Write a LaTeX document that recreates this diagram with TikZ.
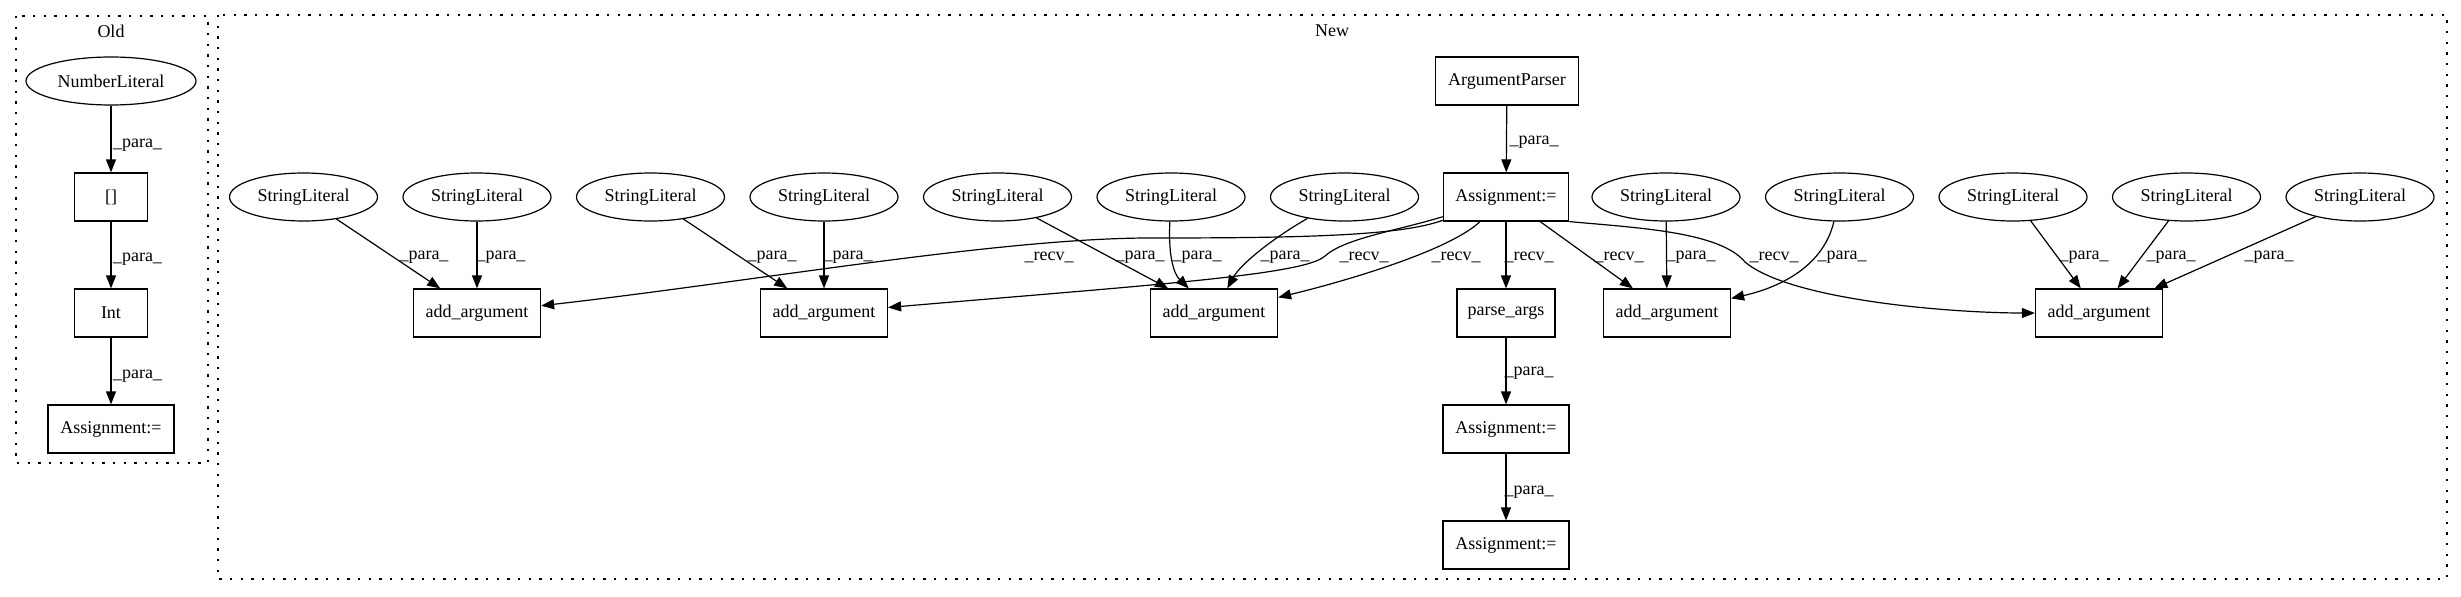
\documentclass[tikz,border=0pt]{standalone}
\usepackage{fontspec}
\setmainfont{Liberation Serif}
\usetikzlibrary{shapes.geometric,arrows.meta}
\begin{document}
\begin{tikzpicture}[x=0.75pt,y=-0.75pt,
  every node/.style={font=\fontsize{13.5pt}{16pt}\selectfont, inner sep=0pt},
  lit/.style={draw, ellipse, line width=0.9pt, minimum width=111pt, minimum height=36pt},
  box/.style={draw, rectangle, line width=0.9pt, minimum height=36pt},
  abox/.style={box, minimum width=95.25pt},
  lbl/.style={},
  edge/.style={draw, line width=0.9pt, -{Triangle[length=9.75pt,width=7.5pt]}},
  cluster/.style={draw, line width=0.9pt, dash pattern=on 1.8pt off 6.2pt},
]
\fill[white] (0,0) rectangle (2461,596);
\useasboundingbox (0,0) rectangle (2461,596);
% clusters
\draw[cluster] (16,16) rectangle (208,463);
\draw[cluster] (218,15) rectangle (2447,579);
\node (oldlbl) at (111,31) {Old};
\node (newlbl) at (1332,31) {New};

% Old
\node[lit, minimum width=127.5pt] (nl) at (111,81) {NumberLiteral};
\node[box, minimum width=54.75pt] (br) at (111,197) {[]};
\node[box, minimum width=54.75pt] (int) at (111,313) {Int};
\node[box, minimum width=94.5pt] (oa) at (111,429) {Assignment:=};
\draw[edge] (nl) -- (br);
\draw[edge] (br) -- (int);
\draw[edge] (int) -- (oa);
\node[lbl] (ol1) at (137.5,145) {\_para\_};
\node[lbl] (ol2) at (137.5,259) {\_para\_};
\node[lbl] (ol3) at (137.5,376) {\_para\_};

% New: main chain
\node[box, minimum width=107pt] (ap) at (1507,81) {ArgumentParser};
\node[box, minimum width=94pt] (a1) at (1506,197) {Assignment:=};
\node[box, minimum width=73.5pt] (pa) at (1506,313) {parse\_args};
\node[box, minimum width=94.5pt] (a2) at (1506,429) {Assignment:=};
\node[box, minimum width=94.5pt] (a3) at (1506,545) {Assignment:=};

% add_argument boxes
\node[abox] (aa1) at (477,313) {add\_argument};
\node[abox] (aa2) at (824,313) {add\_argument};
\node[abox] (aa3) at (1214,313) {add\_argument};
\node[abox] (aa4) at (1667,313) {add\_argument};
\node[abox] (aa5) at (2099,313) {add\_argument};

% string literals
\node[lit] (s1) at (303.5,197) {StringLiteral};
\node[lit] (s2) at (477,197) {StringLiteral};
\node[lit] (s3) at (650.5,197) {StringLiteral};
\node[lit] (s4) at (824,197) {StringLiteral};
\node[lit] (s5) at (997.5,197) {StringLiteral};
\node[lit] (s6) at (1171,197) {StringLiteral};
\node[lit] (s7) at (1344.5,197) {StringLiteral};
\node[lit] (s8) at (1666,197) {StringLiteral};
\node[lit] (s9) at (1839.5,197) {StringLiteral};
\node[lit] (s10) at (2013,197) {StringLiteral};
\node[lit] (s11) at (2186.5,197) {StringLiteral};
\node[lit] (s12) at (2360,197) {StringLiteral};

% chain edges
\draw[edge] (ap) -- (a1);
\draw[edge] (a1) -- (pa);
\draw[edge] (pa) -- (a2);
\draw[edge] (a2) -- (a3);
\node[lbl] (lap) at (1534,142) {\_para\_};
\node[lbl] (lpa) at (1529,373) {\_para\_};
\node[lbl] (la2) at (1529,492) {\_para\_};
\node[lbl] (lrp) at (1529,257) {\_recv\_};

% recv edges
\draw[edge] (a1) .. controls (1400,236) and (1300,238) .. (1150,238)
               .. controls (1000,238) and (750,282) .. (aa1);
\draw[edge] (a1) .. controls (1400,230) and (1345,238) .. (1325,256)
               .. controls (1305,275) and (1150,285) .. (aa2);
\draw[edge] (a1) .. controls (1450,250) and (1350,280) .. (aa3);
\draw[edge] (a1) -- (aa4);
\draw[edge] (a1.south east) .. controls (1640,228) and (1720,232) .. (1745,262)
               .. controls (1790,300) and (1950,313) .. (aa5);
\node[lbl] (lr1) at (1049,257) {\_recv\_};
\node[lbl] (lr2) at (1364,257) {\_recv\_};
\node[lbl] (lr3) at (1456,257) {\_recv\_};
\node[lbl] (lr4) at (1619,257) {\_recv\_};
\node[lbl] (lr5) at (1774,257) {\_recv\_};

% para edges
\draw[edge] (s1) -- (aa1);
\draw[edge] (s2) -- (aa1);
\draw[edge] (s3) -- (aa2);
\draw[edge] (s4) -- (aa2);
\draw[edge] (s5) -- (aa3);
\draw[edge] (s6) .. controls (1168,260) and (1175,275) .. (aa3);
\draw[edge] (s7) .. controls (1270,240) and (1240,265) .. (aa3);
\draw[edge] (s8) -- (aa4);
\draw[edge] (s9) .. controls (1825,260) and (1790,285) .. (aa4);
\draw[edge] (s10) -- (aa5);
\draw[edge] (s11) -- (aa5);
\draw[edge] (s12) -- (aa5);
\node[lbl] (lp1) at (424,257) {\_para\_};
\node[lbl] (lp2) at (501,257) {\_para\_};
\node[lbl] (lp3) at (772,257) {\_para\_};
\node[lbl] (lp4) at (848,257) {\_para\_};
\node[lbl] (lp5) at (1140,257) {\_para\_};
\node[lbl] (lp6) at (1197,257) {\_para\_};
\node[lbl] (lp7) at (1285,257) {\_para\_};
\node[lbl] (lp8) at (1691,257) {\_para\_};
\node[lbl] (lp9) at (1842,257) {\_para\_};
\node[lbl] (lp10) at (2084,257) {\_para\_};
\node[lbl] (lp11) at (2171,257) {\_para\_};
\node[lbl] (lp12) at (2269,257) {\_para\_};
\end{tikzpicture}
\end{document}
